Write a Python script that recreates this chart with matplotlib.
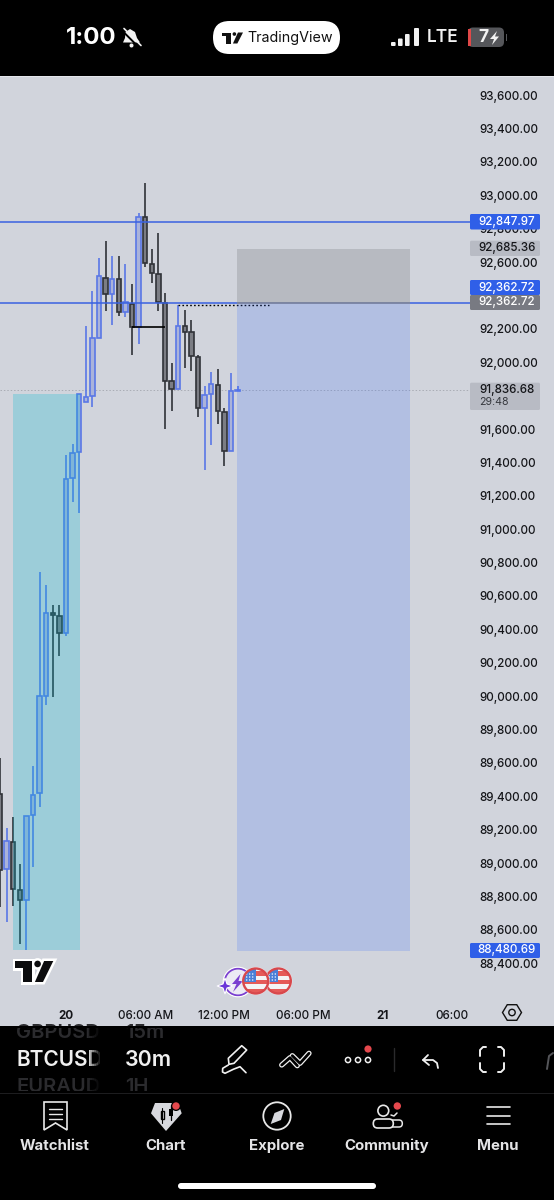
import numpy as np
import matplotlib
matplotlib.use("Agg")
import matplotlib.pyplot as plt
from matplotlib.patches import Rectangle, Circle, Polygon, FancyBboxPatch
from matplotlib.transforms import ScaledTranslation

# ---------- data ----------
bars   = [-10,-9,-8,-7,-6,-5,-4,-3,-2,-1,0,1,2,3,4,5,6,7,8,9,10,11,12,13,14,15,16,17,18,19,20,21,22,23,24,25,26]
highs  = [89636,89215,89280,88999,89289,89586,90748,90670,90551,90551,91449,91515,91815,92224,92434,92629,92731,92641,92641,92592,92472,92897,93081,92682,92777,92422,91999,92348,92318,92258,92048,91863,91948,91963,91731,91942,91863]
opens  = [89418,88971,89132,88843,88783,89291,89422,90005,90504,90486,90385,91311,91467,91769,91803,92152,92511,92416,92502,92308,92354,92218,92877,92592,92535,92362,91893,91845,92224,92186,92038,91729,91813,91870,91709,91473,91833]
closes = [88963,89139,88847,88783,89289,89410,90005,90501,90489,90385,91305,91461,91815,91799,92152,92522,92416,92502,92308,92364,92218,92877,92598,92538,92364,91893,91845,92224,92188,92042,91729,91809,91875,91713,91475,91833,91836]
lows   = [88741,88653,88747,88520,88484,88983,89342,89951,90000,90245,90365,91168,91102,91767,91739,92152,92314,92226,92282,92276,92048,92112,92577,92481,92314,91603,91715,91845,91972,91952,91679,91359,91507,91635,91383,91473,91833]

# 92,400 and 91,800 sit behind the price tags in the reference and cannot be seen
price_ticks = [93600,93400,93200,93000,92800,92600,92200,92000,91600,91400,91200,91000,90800,90600,90400,90200,90000,89800,89600,89400,89200,89000,88800,88600,88400]
time_ticks  = [0,12,24,36,48,58.5]
time_labels = ["20","06:00 AM","12:00 PM","06:00 PM","21","06:00"]

level_a, level_b, level_target, level_stop, level_last = 92847.97, 92362.72, 92685.36, 88480.69, 91836.68
teal_box  = (-8.0, 2.1, 88481, 91815)
long_box  = (25.95, 52.1, 88480.69, 92362.72)
short_box = (25.95, 52.1, 92362.72, 92685.36)
hline_solid  = (10, 15, 92218)
hline_dotted = (17, 30.8, 92348)

tags = [("92,847.97","#2f5fe8","white",214,229.5),
        ("92,685.36","#b8bbc4","#15161a",240.7,256),
        ("92,362.72","#2f5fe8","white",280,295),
        ("92,362.72","#787a82","white",295,310),
        ("88,480.69","#2f5fe8","white",943,958)]
countdown = "29:48"
tabs = ["Watchlist","Chart","Explore","Community","Menu"]

BG = "#d1d4dc"
UP_E, UP_F = "#5a77e6", "#aab3da"
DN_E, DN_F = "#303238", "#7b7d84"
FONT = "Inter"
plt.rcParams["font.family"] = [FONT, "DejaVu Sans"]

W, H = 554, 1200
fig = plt.figure(figsize=(W/100, H/100), dpi=100, facecolor=BG)

PX_PER_BAR = 6.6
X0 = 66.0
PX_PER_USD = 868/5200
ax = fig.add_axes([0, 1-1000/H, 470/W, (1000-77)/H], facecolor="none", zorder=1)
ax.set_xlim((0-X0)/PX_PER_BAR, (470-X0)/PX_PER_BAR)
ax.set_ylim(93600-(1000-96)/PX_PER_USD, 93600+(96-77)/PX_PER_USD)
for s in ax.spines.values(): s.set_visible(False)
ax.yaxis.tick_right()
ax.set_yticks(price_ticks)
ax.set_yticklabels([f"{p:,.2f}" for p in price_ticks], fontsize=8.4, color="#15161a", ha="left", fontweight="medium")
ax.tick_params(axis="y", length=0, pad=6.5)
up_shift = ScaledTranslation(0, 0.6/72, fig.dpi_scale_trans)
for lab in ax.get_yticklabels():
    lab.set_transform(lab.get_transform() + up_shift)
ax.set_xticks(time_ticks)
ax.set_xticklabels(time_labels, fontsize=8.4, color="#15161a", fontweight="medium")
for lab, t in zip(ax.get_xticklabels(), time_labels):
    if t in ("20","21"): lab.set_fontweight("bold")
ax.tick_params(axis="x", length=0, pad=7)

# candles
for b,h,o,c,l in zip(bars,highs,opens,closes,lows):
    up = c >= o
    e, f = (UP_E, UP_F) if up else (DN_E, DN_F)
    ax.vlines(b, l, h, color=e, lw=1.2, zorder=3)
    ax.bar(b, abs(c-o), bottom=min(o,c), width=0.68, facecolor=f, edgecolor=e, linewidth=1.2, zorder=4)

# horizontal levels
ax.axhline(level_last, color="#a9acb4", lw=0.7, ls=(0,(1.5,2)), zorder=2)
ax.axhline(level_a, color="#3a62e0", lw=1.1, zorder=5)
ax.axhline(level_b, color="#3a62e0", lw=1.1, zorder=5)
ax.hlines(hline_solid[2], hline_solid[0], hline_solid[1], color="black", lw=1.2, zorder=5)
ax.hlines(hline_dotted[2], hline_dotted[0], hline_dotted[1], color="black", lw=1.0, ls=(0,(1.2,1.6)), zorder=5)

# position boxes
def box(b, color, alpha, z=6):
    ax.add_patch(Rectangle((b[0], b[2]), b[1]-b[0], b[3]-b[2], facecolor=color, alpha=alpha, edgecolor="none", zorder=z))
box(teal_box, "#00bcd4", 0.25)
box(long_box, "#2962ff", 0.18)
box(short_box, "#000000", 0.12)
ax.hlines(level_b, long_box[0], long_box[1], color="#8a8d96", lw=1.1, zorder=7)

# overlay in pixel coordinates
ov = fig.add_axes([0,0,1,1], facecolor="none", zorder=5)
ov.set_xlim(0,W); ov.set_ylim(H,0); ov.axis("off")
def rect(x0,y0,x1,y1,c,z=1,alpha=None):
    ov.add_patch(Rectangle((x0,y0),x1-x0,y1-y0,facecolor=c,edgecolor="none",zorder=z,alpha=alpha))
def rrect(x0,y0,x1,y1,r,fc="none",ec="none",lw=0,z=2):
    ov.add_patch(FancyBboxPatch((x0+r,y0+r),x1-x0-2*r,y1-y0-2*r,boxstyle=f"round,pad={r}",
                                facecolor=fc,edgecolor=ec,linewidth=lw,zorder=z,mutation_aspect=1))
def line(xs,ys,c="#eeeeee",lw=1.3,z=3):
    ov.plot(xs,ys,color=c,lw=lw,solid_capstyle="round",solid_joinstyle="round",zorder=z)
def txt(x,y,s,size,c="white",weight="normal",ha="center",z=4,**kw):
    return ov.text(x,y,s,fontsize=size,color=c,fontweight=weight,ha=ha,va="center",zorder=z,**kw)

# black bands
rect(0,0,W,76,"black"); rect(0,76,W,77,"#e4e6ec")
rect(0,1026,W,H,"black"); rect(0,1093,W,1094,"#1d1d1f",z=2)

# price tags
for s,fc,tc,y0,y1 in tags:
    rrect(470,y0,540,y1,1.5,fc=fc,z=2)
    txt(507,(y0+y1)/2,s,8.4,tc,"medium")
rrect(470,382.7,540,410,1.5,fc="#b8bbc4",z=2)
txt(507,390,f"{level_last:,.2f}",8.4,"#15161a","medium")
txt(479,402,countdown,7.6,"#35373d",ha="left")

# status bar
txt(91.5,38,"1:00",17.3,"white","bold")
ov.add_patch(Polygon([(130,29),(135,32),(137,38),(140,42.5),(123,42.5),(125,38),(125.5,32)],facecolor="#f2f2f2",zorder=3))
ov.add_patch(Circle((131.5,45.5),2,facecolor="#f2f2f2",zorder=3))
line([122.5,139],[31,47.5],"black",1.4,z=4); line([124,141],[28.5,45.5],"#f2f2f2",1.2,z=5)
rrect(213,21,340,54,16.5,fc="white")
def tv_logo(x,y,w,h,fc,ec=None,lw=0,z=4):
    P = lambda pts:[(x+a*w,y+b*h) for a,b in pts]
    kw = dict(facecolor=fc,edgecolor=ec if ec else "none",linewidth=lw,zorder=z,joinstyle="miter")
    ov.add_patch(Polygon(P([(0,0),(0.444,0),(0.444,1),(0.21,1),(0.21,0.33),(0,0.33)]),**kw))
    ov.add_patch(Circle((x+0.59*w,y+0.14*h),0.086*w,**kw))
    ov.add_patch(Polygon(P([(0.76,0),(1,0),(0.73,1),(0.52,1)]),**kw))
tv_logo(222,32.5,21,11,"#111111")
txt(290,38,"TradingView",10.3,"#111111")
for x,y0 in zip([391,398,405,414],[42,38.5,34,28]):
    rrect(x,y0,x+(4.6 if x<414 else 5),46,1,fc="#f2f2f2")
txt(443,38,"LTE",12.4,"#f2f2f2","semibold")
rrect(468,27.5,504,47,5,fc="#55565a")
rect(468,29,470.5,46,"#e04848",z=3)
rect(506,34,507,41,"#55565a")
txt(483,37.5,"7",12.5,"#f2f2f2","bold")
ov.add_patch(Polygon([(497,31),(490,39),(494,39),(492,45),(499,36.5),(495,36.5)],facecolor="#f2f2f2",zorder=4))

# TradingView mark on chart
tv_logo(15,961,38.3,21,"white","white",3.6,z=3)
tv_logo(15,961,38.3,21,"#0c0c0e",z=4)

# event icons
ov.add_patch(Circle((238,982),13.5,facecolor="#eceaf4",edgecolor="#7a3fd0",linewidth=1.5,zorder=3))
ov.add_patch(Circle((238,982),14.8,facecolor="none",edgecolor="white",linewidth=0.8,zorder=3))
ov.add_patch(Polygon([(240.5,974),(232,984),(236.5,984),(233,992),(243,981),(238.5,981)],facecolor="#7a3fd0",zorder=3))
ov.add_patch(Polygon([(225,978),(227,984),(233,986),(227,988),(225,994),(223,988),(217,986),(223,984)],
                     facecolor="#6a35d8",edgecolor="white",linewidth=0.8,zorder=3))
for cx,z in ((278.3,3.1),(255.7,3.5)):
    ov.add_patch(Circle((cx,981),14,facecolor="#f0f0f4",edgecolor="none",zorder=z))
    c = Circle((cx,981),12.5,facecolor="#f4f4f6",edgecolor="none",zorder=z)
    ov.add_patch(c)
    for a,b in ((971,976),(980,984),(989,993)):
        r = Rectangle((cx-14,a),28,b-a,facecolor="#e55a58",zorder=z+0.01); ov.add_patch(r); r.set_clip_path(c)
    r = Rectangle((cx-14,967),14,14.5,facecolor="#4a7fd8",zorder=z+0.02); ov.add_patch(r); r.set_clip_path(c)
    for dx in (-9,-6,-3):
        for dy in (-7,-4,-1):
            ov.add_patch(Circle((cx+dx,981+dy),0.7,facecolor="white",zorder=z+0.025))
    ov.add_patch(Circle((cx,981),12.5,facecolor="none",edgecolor="#d8484c",linewidth=1.7,zorder=z+0.03))

# settings hexagon
ang = np.deg2rad([0,60,120,180,240,300])
ov.add_patch(Polygon(np.c_[512+9.5*np.cos(ang),1012.5+9*np.sin(ang)],facecolor="none",edgecolor="#111111",linewidth=1.0,zorder=3))
ov.add_patch(Circle((512,1012.5),3.2,facecolor="none",edgecolor="#111111",linewidth=1.0,zorder=3))

# symbol strip
for y,a,b,col in ((1033,"GBPUSD","15m","#2b2b2e"),(1060,"BTCUSD","30m","#f0f0f0"),(1087,"EURAUD","1H","#2b2b2e")):
    big = y==1060
    txt(16,y,a,15 if big else 14.5,col,"semibold",ha="left")
    txt(125,y,b,15.4 if big else 14.5,col,"semibold",ha="left")
for i,x in enumerate(range(88,104,2)):
    rect(x,1026,x+2,1093,"black",z=5,alpha=min(1,(i+1)/7))
rect(102,1026,120,1093,"black",z=5)
rect(0,1026,W,1028,"black",z=6)
rect(0,1091,W,1093,"black",z=6)

# toolbar icons
ov.add_patch(Polygon([(229,1064.3),(228.3,1058.3),(241.7,1045.7),(246.7,1050),(234,1063.3)],facecolor="none",edgecolor="#f0f0f0",linewidth=1.2,joinstyle="round",zorder=3))
line([228.3,222.7,222.5,225,233.3,240,246],[1065,1068.3,1072,1073.3,1069.3,1066.7,1072.7],"#f0f0f0",1.2)
for xs,ys in (([281.7,290,297.3],[1065,1057.7,1065.7]),([292.3,300,309],[1055.7,1063.3,1053.3])):
    line(xs,ys,"#f0f0f0",3.8,z=3); line(xs,ys,"black",2.0,z=3.1)
for x in (348,358,368):
    ov.add_patch(Circle((x,1060),2.6,facecolor="none",edgecolor="#f0f0f0",linewidth=1.1,zorder=3))
ov.add_patch(Circle((368,1049),3.6,facecolor="#e5484d",zorder=4))
line([394,394],[1048,1071],"#2a2a2c",1.0)
line([428,423,429],[1055,1060,1065],"#f0f0f0",1.3)
line([423,433,437,438],[1060,1060,1063,1068],"#f0f0f0",1.3)
for xs,ys in (([480,480,483,486],[1056,1050,1047,1047]),([498,501,504,504],[1047,1047,1050,1056]),
              ([480,480,483,486],[1063,1069,1072,1072]),([498,501,504,504],[1072,1072,1069,1063])):
    line(xs,ys,"#f0f0f0",1.4)
line([547,549,553],[1069,1056,1053],"#55565a",1.4)

# tab bar
for x,s in zip([55,166,277,387,498],tabs):
    txt(x,1146,s,10.8,"#e4e4e6","bold")
ov.add_patch(Polygon([(44,1102),(67,1102),(67,1130),(55.5,1123),(44,1130)],facecolor="none",edgecolor="#e8e8e8",linewidth=1.2,zorder=3))
for y in (1109,1114,1119):
    line([49,62],[y,y],"#e8e8e8",1.0)
ov.add_patch(Polygon([(155,1103),(178,1103),(181.7,1113.3),(166,1131),(151,1113.3)],facecolor="#d8d9de",zorder=3))
rect(160.7,1111,164,1119,"#d8d9de",z=4)
ov.add_patch(Rectangle((160.7,1111),3.3,8,facecolor="none",edgecolor="black",linewidth=1.0,zorder=4.1))
line([162.3,162.3],[1108,1123],"black",0.8,z=4)
rect(169,1109,173.3,1115.7,"black",z=4); line([171,171],[1105,1120],"black",0.9,z=4)
ov.add_patch(Circle((176,1106),5,facecolor="black",zorder=4))
ov.add_patch(Circle((176,1106),3.7,facecolor="#e5484d",zorder=5))
ov.add_patch(Circle((277,1116),13.7,facecolor="none",edgecolor="#e8e8e8",linewidth=1.3,zorder=3))
ov.add_patch(Polygon([(284.3,1109),(281,1120),(270.7,1124),(274.5,1113)],facecolor="#d8d9de",zorder=3))
ov.add_patch(Circle((383.3,1110.7),5.4,facecolor="none",edgecolor="#e8e8e8",linewidth=1.2,zorder=3))
line([391,394,397],[1115,1116,1113],"#e8e8e8",1.1)
rrect(390,1120,402.3,1127,3.4,ec="#e8e8e8",lw=1.1,z=3)
rrect(373.3,1119,393.3,1128,4.4,fc="black",ec="#e8e8e8",lw=1.2,z=3.1)
ov.add_patch(Circle((397.3,1106),3.7,facecolor="#e5484d",zorder=5))
for y in (1107,1116,1124):
    line([487,510],[y,y],"#e8e8e8",1.2)

rrect(178,1183,376,1189,3,fc="white")

fig.savefig("out.png", dpi=100, facecolor=BG)
